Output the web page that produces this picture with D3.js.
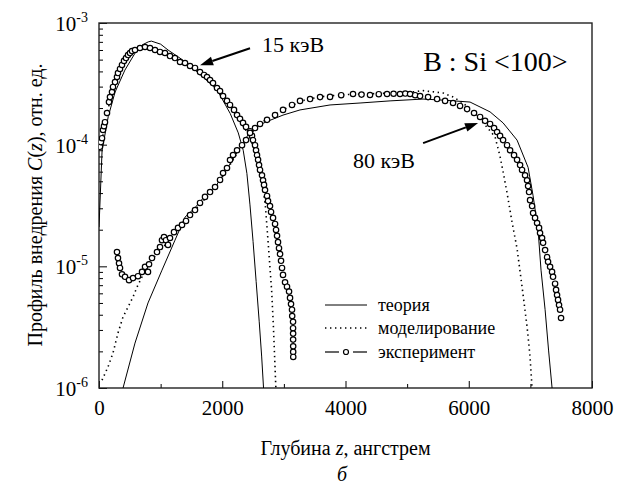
<!DOCTYPE html>
<html><head><meta charset="utf-8">
<script src="https://cdn.jsdelivr.net/npm/d3@7"></script>
<style>
body{margin:0;background:#fff;}
</style></head>
<body><svg id="c" width="621" height="486"></svg>
<script>
// ---- data ----
const xTicksMajor = [0, 2000, 4000, 6000, 8000];
const xTicksMinor = [1000, 3000, 5000, 7000];
const yTicksMajor = [1e-6, 1e-5, 1e-4, 1e-3];
const yExpLabels = ["-6", "-5", "-4", "-3"];

const theory15 = [[0,2.1e-5],[50,9e-5],[150,1.7e-4],[260,2.7e-4],[420,4.1e-4],[580,5.6e-4],[700,6.6e-4],[800,7.0e-4],[850,7.1e-4],[1000,6.7e-4],[1120,6.0e-4],[1350,5.0e-4],[1560,4.1e-4],[1770,3.3e-4],[1920,2.8e-4],[2130,1.8e-4],[2260,1.25e-4],[2340,9e-5],[2400,5.8e-5],[2450,3.2e-5],[2500,1.6e-5],[2550,7.5e-6],[2600,3.5e-6],[2640,1.8e-6],[2670,1e-6],[2690,8e-7]];

const sim15 = [[0,9e-5],[50,1.1e-4],[100,1.5e-4],[200,2.6e-4],[300,3.7e-4],[400,4.8e-4],[500,5.7e-4],[600,6.2e-4],[750,6.5e-4],[900,6.2e-4],[1100,5.6e-4],[1300,4.9e-4],[1500,4.4e-4],[1700,3.8e-4],[1900,3.0e-4],[2100,2.2e-4],[2300,1.55e-4],[2450,1.15e-4],[2550,8.2e-5],[2650,5.0e-5],[2700,3.1e-5],[2750,1.45e-5],[2800,6.5e-6],[2830,3.2e-6],[2870,1e-6],[2880,8e-7]];

const exp15 = [[16,9.6e-5],[32,1.05e-4],[49,1.13e-4],[65,1.32e-4],[81,1.42e-4],[97,1.53e-4],[130,1.82e-4],[162,2.24e-4],[178,2.46e-4],[211,2.71e-4],[227,2.98e-4],[260,3.27e-4],[292,3.6e-4],[308,3.88e-4],[341,4.19e-4],[373,4.52e-4],[406,4.88e-4],[438,5.15e-4],[471,5.45e-4],[503,5.66e-4],[536,5.88e-4],[584,6.0e-4],[665,6.23e-4],[747,6.35e-4],[828,6.23e-4],[909,6.0e-4],[990,5.78e-4],[1071,5.67e-4],[1152,5.35e-4],[1233,5.15e-4],[1315,4.78e-4],[1396,4.69e-4],[1477,4.43e-4],[1558,4.27e-4],[1639,3.95e-4],[1704,3.74e-4],[1753,3.6e-4],[1802,3.4e-4],[1850,3.21e-4],[1915,2.92e-4],[1964,2.76e-4],[2013,2.51e-4],[2077,2.29e-4],[2126,2.12e-4],[2191,1.93e-4],[2240,1.75e-4],[2288,1.63e-4],[2337,1.51e-4],[2386,1.40e-4],[2451,1.29e-4],[2483,1.18e-4],[2499,1.09e-4],[2532,9.9e-5],[2548,9.0e-5],[2564,8.2e-5],[2581,7.5e-5],[2597,6.8e-5],[2613,6.2e-5],[2645,5.6e-5],[2662,5.1e-5],[2678,4.67e-5],[2694,4.24e-5],[2727,3.79e-5],[2743,3.44e-5],[2775,3.13e-5],[2792,2.8e-5],[2824,2.5e-5],[2857,2.23e-5],[2873,1.99e-5],[2889,1.78e-5],[2905,1.58e-5],[2921,1.41e-5],[2938,1.26e-5],[2954,1.11e-5],[2970,9.7e-6],[2986,8.5e-6],[3019,7.4e-6],[3051,6.8e-6],[3084,6.2e-6],[3100,5.5e-6],[3116,4.9e-6],[3132,4.4e-6],[3135,3.9e-6],[3149,3.5e-6],[3149,3.1e-6],[3150,2.8e-6],[3150,2.5e-6],[3151,2.2e-6],[3151,1.98e-6],[3152,1.8e-6]];

const theory80 = [[390,1e-6],[584,2.34e-6],[795,5.0e-6],[1022,9.3e-6],[1233,1.64e-5],[1396,2.54e-5],[1550,3.0e-5],[1720,3.8e-5],[1900,4.6e-5],[2050,6.0e-5],[2200,8.0e-5],[2321,1.0e-4],[2451,1.28e-4],[2600,1.45e-4],[2727,1.55e-4],[2986,1.75e-4],[3262,1.93e-4],[3749,2.12e-4],[4236,2.2e-4],[4723,2.29e-4],[5259,2.37e-4],[5600,2.32e-4],[6021,2.24e-4],[6346,1.86e-4],[6557,1.51e-4],[6784,1.09e-4],[6963,6.5e-5],[7044,3.8e-5],[7125,2.0e-5],[7173,9.3e-6],[7239,4.4e-6],[7295,2.05e-6],[7352,1.0e-6],[7370,8e-7]];

const sim80 = [[49,1.16e-6],[146,1.49e-6],[227,1.94e-6],[308,2.83e-6],[390,3.84e-6],[471,4.63e-6],[552,5.6e-6],[617,6.76e-6],[698,8.2e-6],[747,9.9e-6],[900,1.2e-5],[1100,1.55e-5],[1300,2.05e-5],[1500,2.7e-5],[1700,3.5e-5],[1900,4.5e-5],[2100,6.5e-5],[2300,9.5e-5],[2500,1.3e-4],[2700,1.6e-4],[3000,1.95e-4],[3300,2.3e-4],[3600,2.48e-4],[4000,2.58e-4],[4400,2.62e-4],[4800,2.66e-4],[5100,2.72e-4],[5259,2.78e-4],[5420,2.72e-4],[5583,2.66e-4],[5745,2.47e-4],[5908,2.2e-4],[6100,1.8e-4],[6265,1.45e-4],[6427,1.16e-4],[6508,8.0e-5],[6557,6.0e-5],[6622,4.0e-5],[6703,2.3e-5],[6784,1.4e-5],[6865,6.8e-6],[6946,3.2e-6],[6995,1.8e-6],[7028,1.0e-6],[7040,8e-7]];

const exp80 = [[292,1.31e-5],[308,1.17e-5],[325,1.06e-5],[341,9.7e-6],[373,8.6e-6],[422,8.2e-6],[487,7.7e-6],[552,8.0e-6],[633,8.3e-6],[698,9.0e-6],[747,9.9e-6],[795,9.0e-6],[812,1.04e-5],[860,1.17e-5],[941,1.31e-5],[990,1.44e-5],[1022,1.64e-5],[1055,1.74e-5],[1087,1.64e-5],[1120,1.5e-5],[1152,1.71e-5],[1217,1.91e-5],[1282,2.07e-5],[1347,2.19e-5],[1412,2.36e-5],[1477,2.64e-5],[1558,2.9e-5],[1639,3.32e-5],[1720,3.72e-5],[1802,4.08e-5],[1883,4.49e-5],[1964,5.13e-5],[2013,5.85e-5],[2077,6.43e-5],[2126,7.48e-5],[2175,8.22e-5],[2240,9.0e-5],[2321,9.9e-5],[2386,1.09e-4],[2451,1.25e-4],[2532,1.37e-4],[2613,1.48e-4],[2727,1.6e-4],[2857,1.75e-4],[2986,1.93e-4],[3132,2.12e-4],[3262,2.29e-4],[3425,2.37e-4],[3587,2.46e-4],[3749,2.47e-4],[3930,2.55e-4],[4122,2.61e-4],[4260,2.58e-4],[4398,2.56e-4],[4540,2.6e-4],[4674,2.61e-4],[4780,2.62e-4],[4885,2.61e-4],[4970,2.63e-4],[5048,2.61e-4],[5130,2.55e-4],[5210,2.51e-4],[5340,2.46e-4],[5486,2.37e-4],[5616,2.29e-4],[5745,2.2e-4],[5859,2.08e-4],[5973,1.96e-4],[6086,1.82e-4],[6184,1.69e-4],[6265,1.57e-4],[6346,1.48e-4],[6411,1.37e-4],[6460,1.27e-4],[6508,1.18e-4],[6557,1.09e-4],[6622,9.9e-5],[6671,9.0e-5],[6735,8.2e-5],[6784,7.5e-5],[6833,6.8e-5],[6865,6.2e-5],[6914,5.6e-5],[6946,5.1e-5],[6963,4.57e-5],[6979,4.08e-5],[6995,3.5e-5],[7028,3.13e-5],[7044,2.74e-5],[7076,2.5e-5],[7109,2.27e-5],[7141,2.07e-5],[7157,1.88e-5],[7190,1.71e-5],[7206,1.56e-5],[7239,1.36e-5],[7271,1.19e-5],[7287,1.09e-5],[7320,9.9e-6],[7352,9.0e-6],[7368,8.2e-6],[7401,7.2e-6],[7417,6.4e-6],[7433,5.8e-6],[7449,5.3e-6],[7465,4.8e-6],[7482,4.4e-6],[7498,3.76e-6]];

const legendLabels = ["теория", "моделирование", "эксперимент"];

// ---- layout ----
const FONT = "'Liberation Serif', 'DejaVu Serif', serif";
const svg = d3.select("#c");
const L = 99, R = 592, T = 23, B = 388;
const x = d3.scaleLinear().domain([0, 8000]).range([L, R]);
const y = d3.scaleLog().domain([1e-6, 1e-3]).range([B, T]);

svg.append("defs").append("clipPath").attr("id","clip")
  .append("rect").attr("x",L).attr("y",T).attr("width",R-L).attr("height",B-T);

// x axis major
const gx = svg.append("g").attr("transform",`translate(0,${B})`)
  .call(d3.axisBottom(x).tickValues(xTicksMajor).tickSize(-7).tickPadding(12).tickFormat(d3.format("d")));
gx.attr("font-family", null).attr("font-size", null);
gx.select(".domain").remove();
gx.selectAll("line").attr("stroke","#000").attr("stroke-width",1);
gx.selectAll("text").style("font-family",FONT).style("font-size","21px");
// x minor
const gxm = svg.append("g").attr("transform",`translate(0,${B})`)
  .call(d3.axisBottom(x).tickValues(xTicksMinor).tickSize(-4).tickFormat(""));
gxm.select(".domain").remove();
gxm.selectAll("line").attr("stroke","#000");

// y axis major
const gy = svg.append("g").attr("transform",`translate(${L},0)`)
  .call(d3.axisLeft(y).tickValues(yTicksMajor).tickSize(-8).tickFormat(""));
gy.select(".domain").remove();
gy.selectAll("line").attr("stroke","#000");
// y minor
const yMinor = [];
yTicksMajor.slice(0,3).forEach(d => { for (let k=2;k<=9;k++) yMinor.push(d*k); });
const gym = svg.append("g").attr("transform",`translate(${L},0)`)
  .call(d3.axisLeft(y).tickValues(yMinor).tickSize(-4).tickFormat(""));
gym.select(".domain").remove();
gym.selectAll("line").attr("stroke","#000");

const txt = (sel,xx,yy,size) => sel.append("text").attr("x",xx).attr("y",yy)
  .style("font-family",FONT).style("font-size",size+"px").style("fill","#000");

// y tick labels with superscripts
yTicksMajor.forEach((v,i) => {
  const t = txt(svg, 88, y(v)+8, 21).attr("text-anchor","end");
  t.append("tspan").text("10");
  t.append("tspan").style("font-size","14px").attr("dy",-9).text(yExpLabels[i]);
});

// frame
svg.append("rect").attr("x",L).attr("y",T).attr("width",R-L).attr("height",B-T)
  .attr("fill","none").attr("stroke","#222").attr("stroke-width",1.4);

const plot = svg.append("g").attr("clip-path","url(#clip)");
const line = d3.line().x(d=>x(d[0])).y(d=>y(d[1]));

[theory15, theory80].forEach(s => plot.append("path").datum(s).attr("d",line)
  .attr("fill","none").attr("stroke","#000").attr("stroke-width",1));
[sim15, sim80].forEach(s => plot.append("path").datum(s).attr("d",line)
  .attr("fill","none").attr("stroke","#000").attr("stroke-width",1.6)
  .attr("stroke-dasharray","1.4 3.6"));
[exp15, exp80].forEach(s => plot.append("g").selectAll("circle").data(s).join("circle")
  .attr("cx",d=>x(d[0])).attr("cy",d=>y(d[1])).attr("r",2.7)
  .attr("fill","#fff").attr("stroke","#000").attr("stroke-width",1.2));

// annotations
function arrow(x0,y0,x1,y1){
  const a = Math.atan2(y1-y0,x1-x0), hl=13, hw=4.5;
  const bx = x1 - hl*Math.cos(a), by = y1 - hl*Math.sin(a);
  svg.append("line").attr("x1",x0).attr("y1",y0).attr("x2",bx).attr("y2",by)
    .attr("stroke","#000").attr("stroke-width",2);
  svg.append("path").attr("d",`M${x1},${y1}L${bx+hw*Math.sin(a)},${by-hw*Math.cos(a)}L${bx-hw*Math.sin(a)},${by+hw*Math.cos(a)}Z`)
    .attr("fill","#000");
}
arrow(x(2451), y(6.2e-4), x(1640), y(4.5e-4));
arrow(x(5259), y(1.03e-4), x(6151), y(1.51e-4));

txt(svg, x(2646), y(5.8e-4), 22).text("15 кэВ");
txt(svg, x(4120), y(6.4e-5), 22).text("80 кэВ");
txt(svg, x(5260), y(4.0e-4), 28).text("B : Si <100>");

// legend
const lgY = [305, 328, 352];
const lg = svg.append("g");
lg.append("line").attr("x1",325).attr("x2",367).attr("y1",lgY[0]).attr("y2",lgY[0]).attr("stroke","#000").attr("stroke-width",1);
lg.append("line").attr("x1",325).attr("x2",367).attr("y1",lgY[1]).attr("y2",lgY[1]).attr("stroke","#000").attr("stroke-width",1.6).attr("stroke-dasharray","1.4 3.6");
lg.append("line").attr("x1",325).attr("x2",339).attr("y1",lgY[2]).attr("y2",lgY[2]).attr("stroke","#000").attr("stroke-width",1.2);
lg.append("line").attr("x1",353).attr("x2",367).attr("y1",lgY[2]).attr("y2",lgY[2]).attr("stroke","#000").attr("stroke-width",1.2);
lg.append("circle").attr("cx",346).attr("cy",lgY[2]).attr("r",2.5).attr("fill","#fff").attr("stroke","#000").attr("stroke-width",1.2);
legendLabels.forEach((t,i)=> txt(lg, 378, lgY[i]+6, 18).text(t));

// axis titles
txt(svg, (L+R)/2, 455, 20).attr("text-anchor","middle")
  .call(t=>{ t.append("tspan").text("Глубина "); t.append("tspan").style("font-style","italic").text("z"); t.append("tspan").text(", ангстрем"); });
txt(svg, 0, 0, 20).attr("transform","translate(42,205) rotate(-90)").attr("text-anchor","middle")
  .call(t=>{ t.append("tspan").text("Профиль внедрения ");
    t.append("tspan").style("font-style","italic").text("C");
    t.append("tspan").text("(");
    t.append("tspan").style("font-style","italic").text("z");
    t.append("tspan").text("), отн. ед."); });
txt(svg, 342, 481, 20).attr("text-anchor","middle").style("font-style","italic").text("б");
</script></body></html>
